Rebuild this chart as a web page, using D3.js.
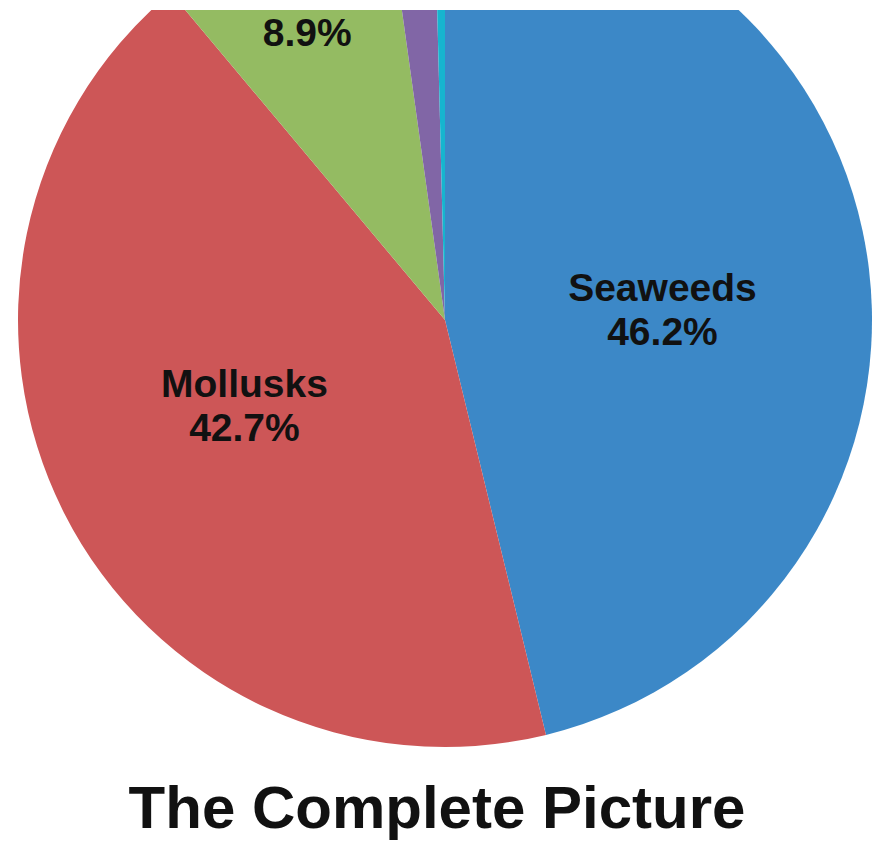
<!DOCTYPE html>
<html>
<head>
<meta charset="utf-8">
<script src="https://cdn.jsdelivr.net/npm/d3@7"></script>
<style>
	body { margin: 0; background: #fff; }
	svg { display: block; }
	text { font-family: "Liberation Sans", Arial, sans-serif; font-weight: bold; fill: #111; }
</style>
</head>
<body>
<svg id="viz"></svg>
<script>
/* data */
var categories = ["Seaweeds", "Mollusks", "Fish", "Crustaceans", "Other"];
var shares = [46.2, 42.7, 8.9, 1.8, 0.4];
var shownLabels = [["Seaweeds"], ["Mollusks"], [""], null, null];
var title = "The Complete Picture";

var colors = ["#3c88c7", "#cd5657", "#94bb62", "#8166a6", "#16b5cf"];

/* create svg */
var width = 876,
	height = 841,
	cx = 445,
	cy = 320,
	radius = 427,
	clipTop = 10;

var svg = d3.select('#viz')
		.attr('width', width)
		.attr('height', height);

svg.append('clipPath')
	.attr('id', 'plotClip')
	.append('rect')
	.attr('x', 0)
	.attr('y', clipTop)
	.attr('width', width)
	.attr('height', height - clipTop);

var g = svg.append('g')
	.attr('clip-path', 'url(#plotClip)')
	.append('g')
	.attr('transform', 'translate(' + cx + ',' + cy + ')');

var pie = d3.pie()
	.sort(null)
	.value(function(d){ return d; });

var arcs = pie(shares);

var arc = d3.arc()
	.innerRadius(0)
	.outerRadius(radius);

g.selectAll('path.slice')
	.data(arcs)
	.enter().append('path')
	.attr('class', 'slice')
	.attr('d', arc)
	.attr('fill', function(d, i){ return colors[i]; });

// labels: big slices sit mid-way (turned a little clockwise),
// the small green one is pushed outwards
var labelPos = function(d, i){
	var a = (d.startAngle + d.endAngle) / 2,
		r = radius * 0.51;
	if (i == 2) {
		r = radius * 0.795;
	} else {
		a += 0.068;
	}
	return [r * Math.sin(a), -r * Math.cos(a)];
}

var fontSize = 39,
	lineGap = 44;

arcs.forEach(function(d, i){
	if (!shownLabels[i]) return;
	var p = labelPos(d, i);
	var t = g.append('text')
		.attr('text-anchor', 'middle')
		.attr('font-size', fontSize)
		.attr('x', p[0])
		.attr('y', p[1] - lineGap / 2 + fontSize * 0.36);
	t.append('tspan')
		.attr('x', p[0])
		.text(shownLabels[i][0]);
	t.append('tspan')
		.attr('x', p[0])
		.attr('dy', lineGap)
		.text(d3.format('.1f')(shares[i]) + '%');
});

svg.append('text')
	.attr('x', 437)
	.attr('y', 828)
	.attr('text-anchor', 'middle')
	.attr('font-size', 60)
	.attr('fill', '#000')
	.text(title);
</script>
</body>
</html>
